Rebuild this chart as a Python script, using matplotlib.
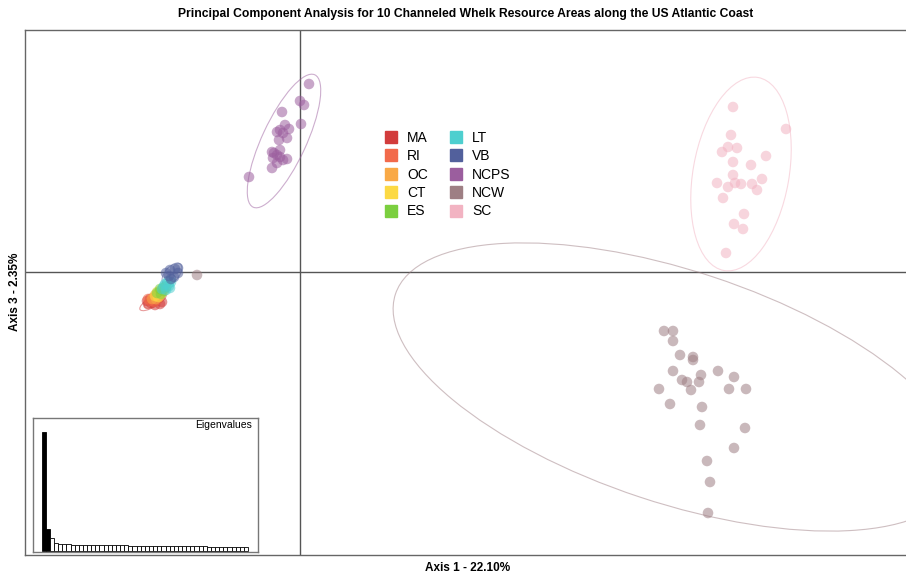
import matplotlib.pyplot as plt
from matplotlib.patches import Ellipse
from matplotlib.lines import Line2D
import numpy as np

plt.rcParams['font.family'] = ['Liberation Sans', 'DejaVu Sans']

# group names and colours
groups = ['MA', 'RI', 'OC', 'CT', 'ES', 'LT', 'VB', 'NCPS', 'NCW', 'SC']
colors = ['#D23C3C', '#F26A4B', '#F9A946', '#FCD943', '#7BCF3F',
          '#4ECFCF', '#52609C', '#9B5E9E', '#9E7F84', '#F2B3C2']

# PCA scores (axis 1, axis 3)
scores = {
    'MA': [(-1.52, -0.32), (-1.49, -0.31), (-1.45, -0.33), (-1.40, -0.32), (-1.50, -0.27),
           (-1.44, -0.28), (-1.47, -0.30), (-1.53, -0.29), (-1.38, -0.30)],
    'RI': [(-1.50, -0.29), (-1.47, -0.26), (-1.43, -0.28), (-1.41, -0.25), (-1.46, -0.30),
           (-1.52, -0.27), (-1.44, -0.24)],
    'OC': [(-1.48, -0.27), (-1.45, -0.23), (-1.41, -0.25), (-1.39, -0.21), (-1.44, -0.27),
           (-1.42, -0.22)],
    'CT': [(-1.45, -0.24), (-1.43, -0.20), (-1.39, -0.22), (-1.37, -0.18), (-1.42, -0.25),
           (-1.40, -0.19)],
    'ES': [(-1.43, -0.21), (-1.40, -0.17), (-1.36, -0.19), (-1.34, -0.15), (-1.39, -0.22),
           (-1.37, -0.16)],
    'LT': [(-1.38, -0.17), (-1.35, -0.12), (-1.31, -0.14), (-1.29, -0.10), (-1.34, -0.18),
           (-1.32, -0.09), (-1.36, -0.14), (-1.30, -0.16)],
    'VB': [(-1.34, -0.01), (-1.25, 0.03), (-1.22, -0.01), (-1.29, -0.07), (-1.31, -0.04),
           (-1.26, -0.05), (-1.22, 0.04), (-1.30, 0.02)],
    'NCPS': [(0.09, 1.88), (0.00, 1.71), (0.04, 1.67), (-0.18, 1.60), (0.01, 1.48),
             (-0.20, 1.42), (-0.15, 1.47), (-0.23, 1.40), (-0.11, 1.43), (-0.13, 1.34),
             (-0.21, 1.32), (-0.17, 1.39), (-0.28, 1.20), (-0.23, 1.17), (-0.27, 1.14),
             (-0.20, 1.15), (-0.13, 1.13), (-0.23, 1.09), (-0.28, 1.04), (-0.17, 1.12),
             (-0.51, 0.95), (-0.26, 1.19), (-0.20, 1.22)],
    'NCW': [(3.64, -0.59), (3.73, -0.59), (3.73, -0.69), (3.80, -0.83), (3.93, -0.85),
            (3.93, -0.88), (3.73, -0.99), (3.82, -1.08), (3.87, -1.10), (4.01, -1.03),
            (3.99, -1.10), (4.18, -0.99), (4.34, -1.05), (3.59, -1.17), (3.91, -1.18),
            (4.29, -1.17), (4.46, -1.17), (3.70, -1.32), (4.02, -1.35), (4.00, -1.53),
            (4.45, -1.56), (4.34, -1.76), (4.07, -1.89), (4.10, -2.10), (4.08, -2.41),
            (-1.03, -0.03)],
    'SC': [(4.33, 1.65), (4.86, 1.43), (4.31, 1.37), (4.22, 1.20), (4.28, 1.25),
           (4.37, 1.24), (4.66, 1.16), (4.33, 1.10), (4.51, 1.07), (4.33, 0.97),
           (4.17, 0.89), (4.28, 0.85), (4.35, 0.89), (4.41, 0.88), (4.52, 0.88),
           (4.62, 0.93), (4.57, 0.82), (4.23, 0.74), (4.44, 0.58), (4.34, 0.48),
           (4.43, 0.43), (4.26, 0.19)],
}

# ellipses: centre x, centre y, width, height, angle
ellipses = {
    'MA': (-1.47, -0.30, 0.30, 0.10, 30),
    'RI': (-1.45, -0.27, 0.26, 0.10, 40),
    'OC': (-1.43, -0.24, 0.24, 0.10, 45),
    'CT': (-1.41, -0.21, 0.22, 0.09, 45),
    'ES': (-1.38, -0.18, 0.22, 0.09, 50),
    'LT': (-1.33, -0.13, 0.24, 0.10, 55),
    'VB': (-1.28, -0.02, 0.26, 0.14, 50),
    'NCPS': (-0.16, 1.31, 1.46, 0.44, 65),
    'NCW': (3.765, -1.15, 5.92, 2.32, -18.3),
    'SC': (4.41, 0.98, 1.96, 0.96, 80),
}

# eigenvalues (percent of inertia)
eigen = [22.10, 3.97, 2.35, 1.40, 1.25, 1.18, 1.15, 1.13, 1.11, 1.09,
         1.07, 1.06, 1.05, 1.04, 1.03, 1.02, 1.01, 1.00, 0.99, 0.98,
         0.97, 0.96, 0.95, 0.94, 0.93, 0.92, 0.91, 0.90, 0.89, 0.88,
         0.87, 0.86, 0.85, 0.84, 0.83, 0.82, 0.81, 0.80, 0.79, 0.78,
         0.77, 0.76, 0.75, 0.74, 0.73, 0.72, 0.71, 0.70, 0.69, 0.68]
n_black = 2

fig = plt.figure(figsize=(9.06, 5.79), dpi=100)
ax = fig.add_axes([25 / 906, 24 / 579, 885 / 906, 525 / 579])
ax.set_xlim(-2.75, 6.10)
ax.set_ylim(-2.83, 2.42)
ax.set_xticks([])
ax.set_yticks([])
for s in ax.spines.values():
    s.set_color('#666666')
    s.set_linewidth(1.0)

ax.axhline(0, color='#555555', lw=1.0, zorder=1)
ax.axvline(0, color='#555555', lw=1.0, zorder=1)

for g, c in zip(groups, colors):
    pts = np.array(scores[g])
    ax.scatter(pts[:, 0], pts[:, 1], s=58, color=c, alpha=0.55, edgecolors='none', zorder=3)
    cx, cy, w, h, ang = ellipses[g]
    ax.add_patch(Ellipse((cx, cy), w, h, angle=ang, fill=False, edgecolor=c,
                         lw=0.8, alpha=0.5, zorder=2))

handles = [Line2D([], [], marker='s', ls='none', color=c, markersize=8) for c in colors]
ax.legend(handles, groups, ncol=2, loc='upper left', bbox_to_anchor=(0.392, 0.832),
          frameon=False, fontsize=10, handletextpad=0.65, columnspacing=1.5,
          labelspacing=0.32, handlelength=1.0)

fig.text(466 / 906, 1 - 14 / 579,
         'Principal Component Analysis for 10 Channeled Whelk Resource Areas along the US Atlantic Coast',
         ha='center', va='center', fontsize=8.7, fontweight='bold')
fig.text(468 / 906, 1 - 568 / 579, 'Axis 1 - 22.10%', ha='center', va='center',
         fontsize=8.5, fontweight='bold')
fig.text(15 / 906, 1 - 292 / 579, 'Axis 3 - 2.35%', ha='center', va='center',
         rotation=90, fontsize=8.5, fontweight='bold')

# eigenvalue inset
axe = fig.add_axes([33 / 906, 27 / 579, 225 / 906, 134 / 579])
idx = np.arange(len(eigen))
fc = ['black' if i < n_black else 'white' for i in idx]
axe.bar(idx, eigen, width=1.0, color=fc, edgecolor='black', linewidth=0.6)
axe.set_xlim(-2.6, len(eigen) + 1.9)
axe.set_ylim(-0.25, 24.7)
axe.set_xticks([])
axe.set_yticks([])
for s in axe.spines.values():
    s.set_color('#777777')
    s.set_linewidth(1.0)
axe.text(0.975, 0.985, 'Eigenvalues', transform=axe.transAxes, ha='right', va='top', fontsize=7.5)

fig.savefig('out.png', dpi=100)
